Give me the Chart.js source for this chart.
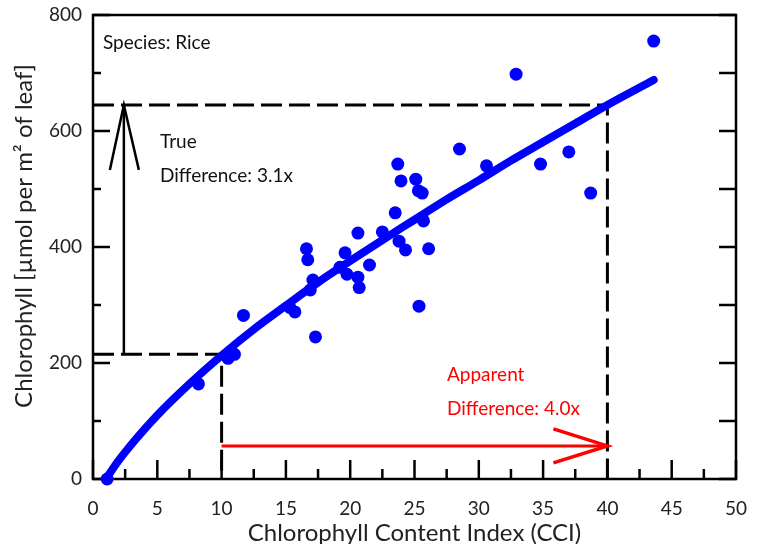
<!DOCTYPE html>
<html lang="en">
<head>
<meta charset="UTF-8">
<title>Chlorophyll vs CCI</title>
<script src="https://cdn.jsdelivr.net/npm/chart.js@4.4.1/dist/chart.umd.min.js"></script>
<style>
  html, body { margin: 0; padding: 0; background: #fff; }
  #wrap { width: 759px; height: 544px; }
</style>
</head>
<body>
<div id="wrap"><canvas id="myChart"></canvas></div>
<script>
// rice samples (CCI reading, chlorophyll)
const cciValues = [1.1, 8.2, 10.5, 11.0, 11.7, 15.3, 15.7, 16.6, 16.7, 16.9, 17.1, 17.3,
  19.2, 19.6, 19.75, 20.6, 20.6, 20.7, 21.5, 22.5, 23.5, 23.7, 23.8, 23.95, 24.3,
  25.1, 25.3, 25.6, 25.7, 26.1, 25.35, 28.5, 30.6, 32.9, 34.8, 37.0, 38.7, 43.6];
const chlValues = [0, 164, 208, 215, 282, 296, 288, 397, 378, 326, 343, 245,
  365, 390, 353, 424, 348, 330, 369, 426, 459, 543, 410, 514, 395,
  517, 497, 493, 445, 397, 298, 569, 540, 698, 543, 564, 493, 755];

// fitted curve
const fitCci = [1, 2, 3, 5, 7.5, 10, 12.5, 15, 17.5, 20, 22.5, 25, 27.5, 30, 32.5, 35, 37.5, 40, 43.6];
const fitChl = [0, 32, 60, 110, 164, 213, 258, 299, 339, 376, 412, 447, 482, 515, 549, 581, 613, 645, 688];

// the two readings compared
const lowCci = 10, highCci = 40;
const lowChl = 215, highChl = 645;
const trueArrowCci = 2.4;
const apparentArrowChl = 57;

const speciesLabel = 'Species: Rice';
const trueLabel = ['True', 'Difference: 3.1x'];
const apparentLabel = ['Apparent', 'Difference: 4.0x'];
const xTitle = 'Chlorophyll Content Index (CCI)';
const yTitle = 'Chlorophyll [\u00b5mol per m\u00b2 of leaf]';

const points = cciValues.map((v, i) => ({ x: v, y: chlValues[i] }));
const fit = fitCci.map((v, i) => ({ x: v, y: fitChl[i] }));

const FONT = 'Lato, "Open Sans", sans-serif';

function seg(ctx, x1, y1, x2, y2) {
  ctx.beginPath();
  ctx.moveTo(x1, y1);
  ctx.lineTo(x2, y2);
  ctx.stroke();
}

const frame = {
  id: 'frame',
  beforeDatasetsDraw(chart) {
    const { ctx, chartArea: a, scales: { x, y } } = chart;
    ctx.save();
    ctx.strokeStyle = '#000';
    ctx.lineWidth = 2.5;
    ctx.strokeRect(a.left, a.top, a.right - a.left, a.bottom - a.top);

    // x ticks, inside, with minor ones between
    x.ticks.forEach((t, i) => {
      const px = x.getPixelForValue(t.value);
      seg(ctx, px, a.bottom, px, a.bottom - 19);
      if (i < x.ticks.length - 1) {
        const m = x.getPixelForValue((t.value + x.ticks[i + 1].value) / 2);
        seg(ctx, m, a.bottom, m, a.bottom - 10);
      }
    });
    // y ticks: left long/short, right all same
    y.ticks.forEach((t, i) => {
      const py = y.getPixelForValue(t.value);
      seg(ctx, a.left, py, a.left + 17, py);
      seg(ctx, a.right, py, a.right - 17, py);
      if (i < y.ticks.length - 1) {
        const m = y.getPixelForValue((t.value + y.ticks[i + 1].value) / 2);
        seg(ctx, a.left, m, a.left + 8, m);
        seg(ctx, a.right, m, a.right - 17, m);
      }
    });
    ctx.restore();
  },
  afterDatasetsDraw(chart) {
    const { ctx, chartArea: a, scales: { x, y } } = chart;
    ctx.save();

    // black arrow head (true difference)
    const tx = x.getPixelForValue(trueArrowCci), ty = y.getPixelForValue(highChl);
    ctx.strokeStyle = '#000';
    ctx.lineWidth = 2.5;
    ctx.beginPath();
    ctx.moveTo(tx - 14, ty + 65);
    ctx.lineTo(tx, ty);
    ctx.lineTo(tx + 15, ty + 65);
    ctx.stroke();

    // red arrow head (apparent difference)
    const rx = x.getPixelForValue(highCci), ry = y.getPixelForValue(apparentArrowChl);
    ctx.strokeStyle = '#ff0000';
    ctx.lineWidth = 3.5;
    ctx.beginPath();
    ctx.moveTo(rx - 54, ry - 17);
    ctx.lineTo(rx, ry);
    ctx.lineTo(rx - 54, ry + 17);
    ctx.stroke();

    // texts
    ctx.font = '19px ' + FONT;
    ctx.textAlign = 'left';
    ctx.textBaseline = 'alphabetic';
    ctx.fillStyle = '#111';
    ctx.fillText(speciesLabel, a.left + 10, 49);
    ctx.fillText(trueLabel[0], 160, 148);
    ctx.fillText(trueLabel[1], 160, 182);
    ctx.fillStyle = '#ff0000';
    ctx.fillText(apparentLabel[0], 447, 381);
    ctx.fillText(apparentLabel[1], 447, 415);

    // axis titles
    ctx.fillStyle = '#222';
    ctx.font = '24px ' + FONT;
    ctx.textAlign = 'center';
    ctx.fillText(xTitle, (a.left + a.right) / 2, 541);
    ctx.translate(32, 236);
    ctx.rotate(-Math.PI / 2);
    ctx.fillText(yTitle, 0, 0);
    ctx.restore();
  }
};

const ctx = document.getElementById('myChart').getContext('2d');
const myChart = new Chart(ctx, {
  data: {
    datasets: [
      {
        type: 'scatter',
        data: points,
        backgroundColor: '#0000ff',
        borderWidth: 0,
        pointRadius: 6.5,
        clip: false,
        order: 0
      },
      {
        type: 'line',
        data: fit,
        borderColor: '#0000ff',
        borderWidth: 8,
        borderCapStyle: 'round',
        pointRadius: 0,
        cubicInterpolationMode: 'monotone',
        fill: false,
        clip: false,
        order: 1
      },
      {
        type: 'line',
        data: [{ x: 0, y: highChl }, { x: highCci, y: highChl }, { x: highCci, y: 0 }],
        borderColor: '#000',
        borderWidth: 3,
        borderDash: [21, 7],
        pointRadius: 0,
        fill: false,
        order: 2
      },
      {
        type: 'line',
        data: [{ x: 0, y: lowChl }, { x: lowCci, y: lowChl }, { x: lowCci, y: 0 }],
        borderColor: '#000',
        borderWidth: 3,
        borderDash: [21, 7],
        pointRadius: 0,
        fill: false,
        order: 2
      },
      {
        type: 'line',
        data: [{ x: trueArrowCci, y: lowChl }, { x: trueArrowCci, y: highChl }],
        borderColor: '#000',
        borderWidth: 2.5,
        pointRadius: 0,
        fill: false,
        order: 2
      },
      {
        type: 'line',
        data: [{ x: lowCci, y: apparentArrowChl }, { x: highCci, y: apparentArrowChl }],
        borderColor: '#ff0000',
        borderWidth: 3,
        pointRadius: 0,
        fill: false,
        order: 2
      }
    ]
  },
  options: {
    responsive: true,
    maintainAspectRatio: false,
    animation: false,
    layout: { padding: { top: 15, right: 23, left: 0, bottom: 0 } },
    plugins: { legend: { display: false }, tooltip: { enabled: false } },
    scales: {
      x: {
        type: 'linear',
        min: 0,
        max: 50,
        ticks: { stepSize: 5, padding: 18, color: '#222', font: { family: FONT, size: 19 } },
        grid: { display: false, drawTicks: false },
        border: { display: false },
        afterFit: s => { s.height = 65; s.paddingLeft = 0; s.paddingRight = 0; }
      },
      y: {
        type: 'linear',
        min: 0,
        max: 800,
        ticks: { stepSize: 200, padding: 11, color: '#222', font: { family: FONT, size: 19 } },
        grid: { display: false, drawTicks: false },
        border: { display: false },
        afterFit: s => { s.width = 93; s.paddingTop = 0; s.paddingBottom = 0; }
      }
    }
  },
  plugins: [frame]
});
</script>
</body>
</html>
